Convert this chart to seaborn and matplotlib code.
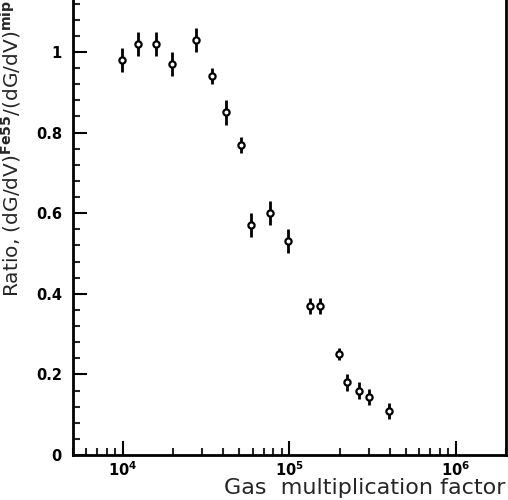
import numpy as np
import pandas as pd
import matplotlib
matplotlib.use("Agg")
import matplotlib.pyplot as plt
import matplotlib.ticker as mticker
import seaborn as sns

gain = [9800, 12300, 15700, 19700, 27400, 34400, 41600, 51200, 59000, 76800,
        98400, 132700, 152500, 197500, 222500, 261000, 301000, 396000]
ratio = [0.98, 1.02, 1.02, 0.97, 1.03, 0.94, 0.85, 0.77, 0.57, 0.60,
         0.53, 0.37, 0.37, 0.25, 0.18, 0.16, 0.145, 0.11]
err = [0.03, 0.03, 0.03, 0.03, 0.03, 0.02, 0.03, 0.02, 0.03, 0.03,
       0.03, 0.02, 0.02, 0.015, 0.02, 0.02, 0.02, 0.02]
ytick_vals = [0, 0.2, 0.4, 0.6, 0.8, 1]
ytick_labels = ["0", "0.2", "0.4", "0.6", "0.8", "1"]
xtick_vals = [1e4, 1e5, 1e6]
xtick_labels = [r"$\mathbf{10^{4}}$", r"$\mathbf{10^{5}}$", r"$\mathbf{10^{6}}$"]

df = pd.DataFrame({"gain": gain, "ratio": ratio, "err": err})

sns.set_style("ticks")
plt.rcParams["font.family"] = ["DejaVu Sans"]

fig = plt.figure(figsize=(5.08, 5.0), dpi=100)
ax = fig.add_axes([73 / 508, 45 / 500, (506 - 73) / 508, 455 / 500])

ax.errorbar(df["gain"], df["ratio"], yerr=df["err"], fmt="none",
            ecolor="black", elinewidth=2.0, capsize=0, zorder=2)
sns.scatterplot(data=df, x="gain", y="ratio", ax=ax, marker="o", s=20,
                facecolor="white", edgecolor="black", linewidth=1.6, zorder=3)

ax.set_xscale("log")
ax.set_xlim(5e3, 2e6)
ax.set_ylim(0, 1.129)

ax.set_xticks(xtick_vals)
ax.set_xticklabels(xtick_labels)
ax.xaxis.set_minor_locator(mticker.LogLocator(base=10, subs=np.arange(2, 10)))
ax.xaxis.set_minor_formatter(mticker.NullFormatter())
ax.set_yticks(ytick_vals)
ax.set_yticklabels(ytick_labels, fontweight="bold")
ax.yaxis.set_minor_locator(mticker.MultipleLocator(0.04))

ax.tick_params(axis="both", which="major", direction="in", length=10, width=1.5,
               labelsize=10.5, colors="black")
ax.tick_params(axis="both", which="minor", direction="in", length=5, width=1.5)
ax.tick_params(axis="x", which="major", pad=4)
ax.tick_params(axis="y", which="major", pad=8)

for s in ["left", "bottom", "right"]:
    ax.spines[s].set_linewidth(2.0)
    ax.spines[s].set_color("black")
ax.spines["top"].set_visible(False)

ax.set_xlabel("Gas  multiplication factor", fontsize=16)
ax.xaxis.label.set_horizontalalignment("right")
ax.xaxis.label.set_verticalalignment("center")
ax.xaxis.set_label_coords(1.0, (455 - 488) / 455)

ax.set_ylabel(r"Ratio, (dG/dV)$^{\mathbf{Fe55}}$/(dG/dV)$^{\mathbf{mip}}$", fontsize=14.5)
ax.yaxis.label.set_horizontalalignment("left")
ax.yaxis.set_label_coords((24 - 73) / 433, (455 - 297) / 455)

fig.savefig("out.png", dpi=100, facecolor="white")
